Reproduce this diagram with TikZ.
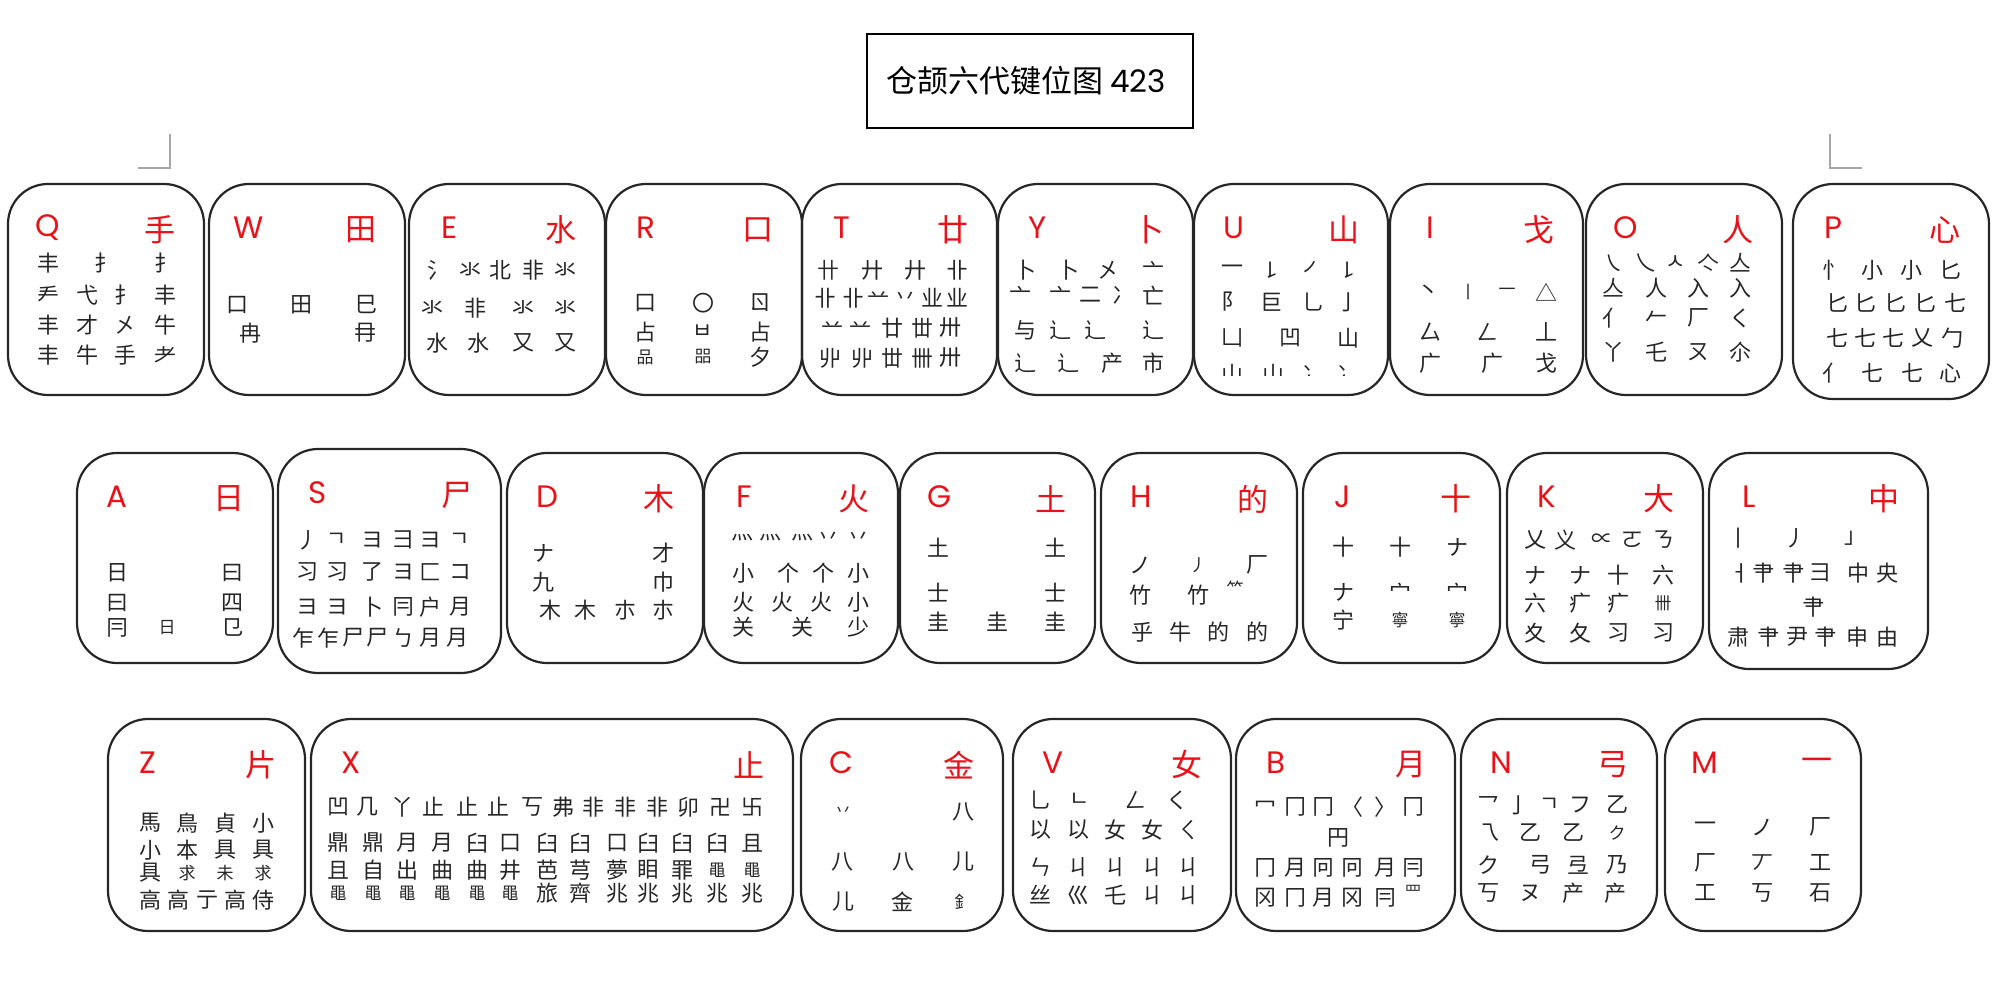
\documentclass[tikz,border=0pt]{standalone}
\usepackage{fontspec}
\newfontfamily\cjk{Noto Sans CJK SC}
\newfontfamily\lat{Poppins}
\definecolor{kred}{RGB}{232,18,24}
\newcommand\sm{\fontsize{17}{17}\selectfont}
\newcommand\keycap[7]{%
  \pgfmathsetmacro\kw{#4-#2}\pgfmathsetmacro\kh{#5-#3}%
  \node[keybox, minimum width=\kw pt, minimum height=\kh pt] (k#1) at ({(#2+#4)/2},{(#3+#5)/2}) {};
  \node[keyletter] (l#1) at ({#2+40},{#3+44}) {#6};
  \node[keyrad] (r#1) at ({#4-44},{#3+46}) {#7};
}
\newcommand\grow[3]{%
  \foreach \gx/\gg [count=\gi] in {#3} {\node[comp] (#1-\gi) at (\gx,#2) {\gg};}%
}
\begin{document}
\begin{tikzpicture}[x=1pt,y=-1pt,
  keybox/.style={draw=black!85, line width=2.2pt, rounded corners=40pt, inner sep=0pt},
  keyletter/.style={text=kred, font=\lat\fontsize{31}{31}\selectfont, inner sep=0pt},
  keyrad/.style={text=kred, font=\cjk\fontsize{31}{31}\selectfont, inner sep=0pt},
  comp/.style={text=black!85, font=\cjk\fontsize{22}{22}\selectfont, inner sep=0pt},
  cornermark/.style={draw=black!35, line width=1.5pt},
  titlebox/.style={draw=black, line width=1.5pt, inner sep=0pt}]
\useasboundingbox (0,0) rectangle (2000,1000);

% title
\node[titlebox, minimum width=326pt, minimum height=94pt] (title) at (1030,81) {};
\node[anchor=west, inner sep=0pt, font=\cjk\fontsize{31}{31}\selectfont] (titletext) at (886,81) {仓颉六代键位图 {\lat 423}};

% corner marks
\coordinate (m1a) at (170,134); \coordinate (m1b) at (170,168); \coordinate (m1c) at (138,168);
\draw[cornermark] (m1a) -- (m1b) -- (m1c);
\coordinate (m2a) at (1830,134); \coordinate (m2b) at (1830,168); \coordinate (m2c) at (1862,168);
\draw[cornermark] (m2a) -- (m2b) -- (m2c);

% ---------- row 1 ----------
\keycap{Q}{8}{184}{204}{395}{Q}{手}
\grow{Q1}{263}{48/丰,105/扌,165/扌}
\grow{Q2}{295}{48/龵,87/弋,125/扌,165/丰}
\grow{Q3}{325}{48/丰,87/才,125/㐅,165/牛}
\grow{Q4}{355}{48/丰,87/牛,125/手,165/耂}

\keycap{W}{209}{184}{405}{395}{W}{田}
\grow{W1}{305}{237/口,301/田,366/巳}
\grow{W2}{333}{250/冉,365/冄}

\keycap{E}{409}{184}{605}{395}{E}{水}
\grow{E1}{270}{438/氵,470/氺,500/北,533/非,565/氺}
\grow{E2}{308}{432/氺,475/非,523/氺,565/氺}
\grow{E3}{343}{437/水,478/水,523/又,565/又}

\keycap{R}{606}{184}{802}{395}{R}{口}
\grow{R1}{303}{645/口,703/〇,760/ㄖ}
\grow{R2}{332}{645/占,703/ㅂ,760/占}
\grow{R3}{357}{645/{\sm 品},703/{\sm 㗊},760/夕}

\keycap{T}{802}{184}{997}{395}{T}{廿}
\grow{T1}{270}{828/卄,872/廾,915/廾,957/卝}
\grow{T2}{298}{825/卝,853/卝,878/䒑,905/丷,932/业,957/业}
\grow{T3}{328}{832/䒑,860/䒑,892/廿,922/丗,950/卅}
\grow{T4}{358}{830/丱,862/丱,892/丗,922/卌,950/卅}

\keycap{Y}{998}{184}{1193}{395}{Y}{卜}
\grow{Y1}{270}{1025/卜,1068/卜,1108/㐅,1153/亠}
\grow{Y2}{295}{1020/亠,1060/亠,1090/二,1123/冫,1153/亡}
\grow{Y3}{330}{1025/与,1060/辶,1095/辶,1153/辶}
\grow{Y4}{363}{1025/辶,1068/辶,1112/产,1153/市}

\keycap{U}{1194}{184}{1388}{395}{U}{山}
\grow{U1}{270}{1232/一,1271/㇙,1313/㇒,1348/㇙}
\grow{U2}{302}{1232/阝,1271/巨,1313/乚,1348/亅}
\grow{U3}{338}{1232/凵,1290/凹,1348/山}
\begin{scope}
\clip (1194,350) rectangle (1388,375);
\grow{U4}{374}{1232/山,1273/山,1313/冫,1348/冫}
\end{scope}

\keycap{I}{1390}{184}{1583}{395}{I}{戈}
\grow{I1}{292}{1428/丶,1468/{\sm 丨},1507/{\sm 一},1546/△}
\grow{I2}{332}{1430/厶,1487/ㄥ,1546/丄}
\grow{I3}{363}{1430/广,1492/广,1546/戈}

\keycap{O}{1586}{184}{1782}{395}{O}{人}
\grow{O1}{263}{1613/㇏,1645/乀,1676/ㅅ,1708/亽,1740/亼}
\grow{O2}{288}{1613/亼,1656/人,1698/入,1740/入}
\grow{O3}{318}{1613/亻,1656/𠂉,1698/厂,1740/く}
\grow{O4}{352}{1613/丫,1656/乇,1698/ㄡ,1740/尒}

\keycap{P}{1793}{184}{1989}{399}{P}{心}
\grow{P1}{270}{1833/忄,1872/小,1911/小,1950/匕}
\grow{P2}{303}{1837/匕,1865/匕,1895/匕,1925/匕,1955/七}
\grow{P3}{338}{1837/七,1865/七,1893/七,1922/乂,1952/勹}
\grow{P4}{373}{1833/亻,1872/七,1912/七,1950/心}

% ---------- row 2 ----------
\keycap{A}{77}{453}{273}{663}{A}{日}
\grow{A1}{573}{117/日,232/曰}
\grow{A2}{603}{117/曰,232/四}
\grow{A3}{628}{117/冃,167/{\sm 日},232/㔾}

\keycap{S}{278}{449}{501}{673}{S}{尸}
\grow{S1}{540}{307/丿,337/ㄱ,372/ヨ,403/彐,430/ヨ,460/ㄱ}
\grow{S2}{572}{307/习,337/习,372/了,403/ヨ,430/匚,460/コ}
\grow{S3}{607}{307/ヨ,337/ヨ,372/卜,403/冃,430/户,460/月}
\grow{S4}{638}{303/乍,328/乍,353/尸,377/尸,403/ㄅ,430/月,457/月}

\keycap{D}{507}{453}{703}{663}{D}{木}
\grow{D1}{553}{543/ナ,663/才}
\grow{D2}{582}{543/九,663/巾}
\grow{D3}{610}{550/木,585/木,625/朩,663/朩}

\keycap{F}{704}{453}{898}{663}{F}{火}
\grow{F1}{538}{742/灬,770/灬,802/灬,828/丷,858/丷}
\grow{F2}{573}{743/小,788/个,823/个,858/小}
\grow{F3}{602}{743/火,782/火,821/火,858/小}
\grow{F4}{627}{743/关,802/关,858/少}

\keycap{G}{900}{453}{1095}{663}{G}{土}
\grow{G1}{548}{938/土,1055/土}
\grow{G2}{593}{938/士,1055/士}
\grow{G3}{622}{938/圭,997/圭,1055/圭}

\keycap{H}{1101}{453}{1297}{663}{H}{的}
\grow{H1}{565}{1140/ノ,1198/{\sm 丿},1257/厂}
\grow{H2}{595}{1140/竹,1198/竹}
\node[comp] (H2-3) at (1235,588) {\sm ⺮};
\grow{H3}{632}{1142/乎,1180/牛,1218/的,1257/的}

\keycap{J}{1303}{453}{1500}{663}{J}{十}
\grow{J1}{547}{1343/十,1400/十,1457/ナ}
\grow{J2}{592}{1343/ナ,1400/宀,1457/宀}
\grow{J3}{620}{1343/宁,1400/{\sm 寧},1457/{\sm 寧}}

\keycap{K}{1507}{453}{1703}{663}{K}{大}
\grow{K1}{540}{1535/乂,1565/义,1602/∝,1632/ㄛ,1663/ㄋ}
\grow{K2}{575}{1535/ナ,1580/ナ,1618/十,1663/六}
\grow{K3}{603}{1535/六,1580/疒,1618/疒,1663/{\sm 卌}}
\grow{K4}{633}{1535/夊,1580/夂,1618/习,1663/习}

\keycap{L}{1709}{453}{1928}{669}{L}{中}
\grow{L1}{538}{1738/丨,1795/丿,1855/」}
\grow{L2}{573}{1740/ㅓ,1763/肀,1793/肀,1820/彐,1858/中,1887/央}
\grow{L3}{607}{1813/肀}
\grow{L4}{637}{1738/肃,1768/肀,1797/尹,1825/肀,1857/申,1887/由}

% ---------- row 3 ----------
\keycap{Z}{108}{719}{305}{931}{Z}{片}
\grow{Z1}{823}{150/馬,187/鳥,225/貞,263/小}
\grow{Z2}{850}{150/小,187/本,225/具,263/具}
\grow{Z3}{873}{150/具,187/{\sm 求},225/{\sm 未},263/{\sm 求}}
\grow{Z4}{900}{150/高,178/高,207/亍,235/高,263/侍}

\keycap{X}{311}{719}{793}{931}{X}{止}
\grow{X1}{807}{338/凹,367/几,402/丫,433/止,467/止,498/止,532/丂,563/弗,593/非,625/非,657/非,688/卯,720/卍,752/卐}
\grow{X2}{843}{338/鼎,373/鼎,407/月,442/月,477/臼,510/口,547/臼,580/臼,617/口,648/臼,682/臼,717/臼,752/且}
\grow{X3}{870}{338/且,373/自,407/出,442/曲,477/曲,510/井,547/芭,580/芎,617/夢,648/䀠,682/罪,717/{\sm 黽},752/{\sm 黽}}
\grow{X4}{893}{338/{\sm 黽},373/{\sm 黽},407/{\sm 黽},442/{\sm 黽},477/{\sm 黽},510/{\sm 黽},547/旅,580/齊,617/兆,648/兆,682/兆,717/兆,752/兆}

\keycap{C}{801}{719}{1003}{931}{C}{金}
\grow{C1}{812}{843/{\sm 丷},963/八}
\grow{C2}{862}{842/八,903/八,963/儿}
\grow{C3}{902}{843/儿,902/金,963/{\sm 釒}}

\keycap{V}{1013}{719}{1231}{931}{V}{女}
\grow{V1}{800}{1040/乚,1080/ㄴ,1135/ㄥ,1177/く}
\grow{V2}{830}{1040/以,1078/以,1115/女,1152/女,1188/ㄑ}
\grow{V3}{867}{1040/ㄣ,1078/ㄐ,1115/ㄐ,1152/ㄐ,1188/ㄐ}
\grow{V4}{895}{1040/丝,1078/巛,1115/乇,1152/ㄐ,1188/ㄐ}

\keycap{B}{1236}{719}{1455}{931}{B}{月}
\grow{B1}{807}{1265/冖,1295/冂,1323/冂,1352/〈,1385/〉,1413/冂}
\grow{B2}{838}{1338/円}
\grow{B3}{868}{1265/冂,1295/月,1323/冋,1352/冋,1385/月,1413/冃}
\grow{B4}{898}{1265/冈,1295/冂,1323/月,1352/冈,1385/冃}
\node[comp] (B4-6) at (1413,892) {\sm 罒};

\keycap{N}{1461}{719}{1657}{931}{N}{弓}
\grow{N1}{805}{1488/乛,1518/亅,1550/ㄱ,1580/フ,1617/乙}
\grow{N2}{833}{1488/乁,1530/乙,1573/乙,1617/{\sm ク}}
\grow{N3}{865}{1488/ク,1540/弓,1578/弖,1617/乃}
\grow{N4}{893}{1488/丂,1530/ヌ,1573/产,1615/产}

\keycap{M}{1665}{719}{1861}{931}{M}{一}
\grow{M1}{827}{1705/一,1762/ノ,1820/厂}
\grow{M2}{863}{1705/厂,1762/丆,1820/工}
\grow{M3}{893}{1705/工,1762/丂,1820/石}
\end{tikzpicture}
\end{document}
